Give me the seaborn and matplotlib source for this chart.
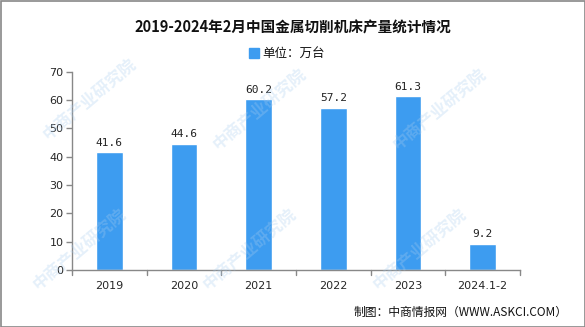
import matplotlib
matplotlib.use("Agg")
import matplotlib.pyplot as plt
import seaborn as sns
import pandas as pd
from matplotlib.patches import Rectangle

categories = ["2019", "2020", "2021", "2022", "2023", "2024.1-2"]
values = [41.6, 44.6, 60.2, 57.2, 61.3, 9.2]
y_ticks = [0, 10, 20, 30, 40, 50, 60, 70]

sns.set_theme(style="white")
plt.rcParams["font.family"] = ["Noto Sans CJK SC", "DejaVu Sans"]

bar_color = "#3d9cf0"
df = pd.DataFrame({"year": categories, "value": values})

fig = plt.figure(figsize=(5.85, 3.27), dpi=100)
ax = fig.add_axes([72 / 585, 1 - 270 / 327, 448 / 585, (270 - 71.7) / 327])

sns.barplot(data=df, x="year", y="value", color=bar_color, saturation=1,
            width=0.36, ax=ax)

for i, v in enumerate(values):
    ax.text(i, v + 1.6, f"{v:.1f}", ha="center", va="bottom", fontsize=8,
            family=["DejaVu Sans Mono"], color="#222222")

ax.set_ylim(0, 70)
ax.set_xlim(-0.5, len(categories) - 0.5)
ax.set_yticks(y_ticks)
ax.set_yticklabels([str(t) for t in y_ticks], fontsize=8, family=["DejaVu Sans"])
ax.set_xticks(range(len(categories)))
ax.set_xticklabels(categories, fontsize=8, family=["DejaVu Sans"])
ax.set_xlabel("")
ax.set_ylabel("")
ax.tick_params(axis="x", length=0, pad=8)
ax.tick_params(axis="y", length=4, width=1, color="#888888", pad=2, left=True)
# category boundary ticks on the x axis
for b in [i - 0.5 for i in range(len(categories) + 1)]:
    ax.plot([b, b], [0, -1.6], color="#888888", lw=1, clip_on=False)
for s in ["top", "right"]:
    ax.spines[s].set_visible(False)
for s in ["left", "bottom"]:
    ax.spines[s].set_color("#888888")
    ax.spines[s].set_linewidth(1)

fig.text(0.5, 1 - 28 / 327, "2019-2024年2月中国金属切削机床产量统计情况",
         ha="center", va="center", fontsize=10.5, fontweight="bold", color="#111111")
fig.patches.append(Rectangle((249 / 585, 1 - 58 / 327), 10 / 585, 10 / 327,
                             transform=fig.transFigure, color=bar_color))
fig.text(262 / 585, 1 - 53 / 327, "单位：万台", ha="left", va="center",
         fontsize=9, color="#111111")
fig.text(568 / 585, 1 - 312 / 327, "制图：中商情报网（WWW.ASKCI.COM）",
         ha="right", va="center", fontsize=8.5, color="#111111")

# faint diagonal watermarks
for (wx, wy) in [(80, 250), (250, 250), (420, 250), (90, 100), (260, 110),
                 (440, 110)]:
    fig.text(wx / 585, 1 - wy / 327, "中商产业研究院", rotation=40, fontsize=12,
             fontweight="bold", color="#a9cdef", alpha=0.3, ha="center",
             va="center", zorder=0)

fig.patches.append(Rectangle((0.5 / 585, 0.5 / 327), 584 / 585, 326 / 327,
                             transform=fig.transFigure, fill=False,
                             edgecolor="#888888", lw=1.2))

fig.savefig("out.png", dpi=100)
